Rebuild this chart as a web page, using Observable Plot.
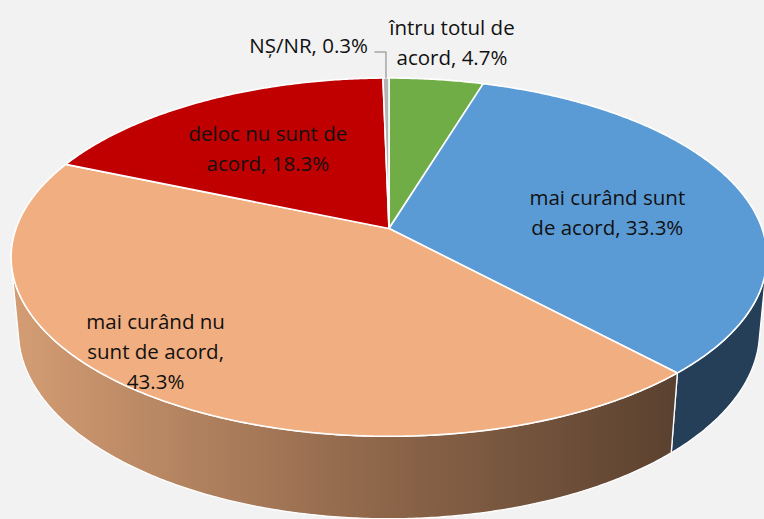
<!DOCTYPE html>
<html>
<head>
<meta charset="utf-8">
<script src="https://cdn.jsdelivr.net/npm/d3@7"></script>
<script src="https://cdn.jsdelivr.net/npm/@observablehq/plot@0.6"></script>
<style>
  html, body { margin: 0; padding: 0; background: #f2f2f2; }
  #chart svg { display: block; }
</style>
</head>
<body>
<div id="chart"></div>
<script>
// ---- data ----
const categories = ["întru totul de acord", "mai curând sunt de acord", "mai curând nu sunt de acord", "deloc nu sunt de acord", "NȘ/NR"];
const values = [4.7, 33.3, 43.3, 18.3, 0.3];
const topColors = ["#70ad47", "#5b9bd5", "#f1ae80", "#c00000", "#b4b4b4"];
const sideColors = ["#4a7a2c", "#243f57", "url(#orangeSide)", "#7a0000", "#888888"];
const wrapChars = [14, 15, 14, 16, 20];

// ---- layout (3D perspective pie) ----
const W = 764, H = 519;
const CX = 388.5, CY = 228, B = 373, SIN_PHI = 0.468, E = 0.16;
const COS_PHI = Math.sqrt(1 - SIN_PHI * SIN_PHI);
const RAD = E / COS_PHI, F = B / RAD, DEPTH = 0.0411;
const labelLayout = [
  {k: 1.32, dx: 3, dy: 0},
  {k: 0.62, dx: -2, dy: 6},
  {k: 0.76, dx: -53, dy: 0},
  {k: 0.60, dx: -5, dy: -2},
  {k: 1.00, dx: -18, dy: -32}
];
const FONT_SIZE = 20.5;

function project(theta, k, level) {
  const X = k * RAD * Math.sin(theta), Z = k * RAD * Math.cos(theta), Y = level;
  const v = Y * COS_PHI + Z * SIN_PHI, w = 1 + Z * COS_PHI - Y * SIN_PHI;
  return {x: CX + F * X / w, y: CY - F * v / w};
}
function arc(a, b, k, level) {
  const n = Math.max(2, Math.ceil(Math.abs(b - a) / (Math.PI / 360)));
  return d3.range(n + 1).map(j => project(a + (b - a) * j / n, k, level));
}
function wrap(text, max) {
  const words = text.split(" "), lines = [];
  let cur = "";
  for (const w of words) {
    if (cur && (cur + " " + w).length > max) { lines.push(cur); cur = w; }
    else cur = cur ? cur + " " + w : w;
  }
  if (cur) lines.push(cur);
  return lines.join("\n");
}

const total = d3.sum(values);
let acc = 0;
const slices = values.map((v, i) => {
  const a = acc / total * 2 * Math.PI; acc += v;
  const b = acc / total * 2 * Math.PI;
  return {i, a, b, mid: (a + b) / 2};
});

const TH1 = Math.acos(-RAD / COS_PHI), TH2 = 2 * Math.PI - TH1;

const sidePolys = [];
slices.forEach(s => {
  const a = Math.max(s.a, TH1), b = Math.min(s.b, TH2);
  if (a < b) sidePolys.push({i: s.i, pts: [...arc(a, b, 1, 0), ...arc(b, a, 1, -DEPTH)]});
});
const topPolys = slices.map(s => ({i: s.i, pts: [project(0, 0, 0), ...arc(s.a, s.b, 1, 0)]}));

const labels = slices.map(s => {
  const L = labelLayout[s.i];
  const p = project(s.mid, L.k, 0);
  return {x: p.x + L.dx, y: p.y + L.dy, text: wrap(`${categories[s.i]}, ${values[s.i]}%`, wrapChars[s.i]), i: s.i};
});
const smallIdx = 4;
const rim = project(slices[smallIdx].mid, 1, 0);
const leader = [
  {x: rim.x - 11, y: rim.y - 26},
  {x: rim.x, y: rim.y - 26},
  {x: rim.x, y: rim.y}
];

function defsMark() {
  const ns = "http://www.w3.org/2000/svg";
  const defs = document.createElementNS(ns, "defs");
  const g = document.createElementNS(ns, "linearGradient");
  g.setAttribute("id", "orangeSide");
  g.setAttribute("x1", "0"); g.setAttribute("x2", "1");
  g.setAttribute("y1", "0"); g.setAttribute("y2", "0");
  [["0%", "#d49d74"], ["55%", "#8e664a"], ["100%", "#5a412f"]].forEach(([o, c]) => {
    const st = document.createElementNS(ns, "stop");
    st.setAttribute("offset", o); st.setAttribute("stop-color", c);
    g.appendChild(st);
  });
  defs.appendChild(g);
  return defs;
}

const marks = [defsMark];
sidePolys.forEach(p => marks.push(Plot.line(p.pts, {x: "x", y: "y", curve: "linear-closed", fill: sideColors[p.i], stroke: "white", strokeWidth: 1.3, strokeLinejoin: "round"})));
topPolys.forEach(p => marks.push(Plot.line(p.pts, {x: "x", y: "y", curve: "linear-closed", fill: topColors[p.i], stroke: "white", strokeWidth: 1.6, strokeLinejoin: "round"})));
marks.push(Plot.line(leader, {x: "x", y: "y", stroke: "#a6a6a6", strokeWidth: 1.5}));
marks.push(Plot.text(labels.filter(d => d.i !== smallIdx), {x: "x", y: "y", text: "text", textAnchor: "middle", lineAnchor: "middle", lineHeight: 1.46, fontSize: FONT_SIZE, fill: "#111"}));
marks.push(Plot.text(labels.filter(d => d.i === smallIdx), {x: "x", y: "y", text: "text", textAnchor: "end", lineAnchor: "middle", fontSize: FONT_SIZE, fill: "#111"}));

const chart = Plot.plot({
  width: W, height: H,
  margin: 0,
  style: {background: "#f2f2f2", fontFamily: "'Open Sans', sans-serif"},
  x: {domain: [0, W], range: [0, W], axis: null},
  y: {domain: [0, H], range: [0, H], axis: null},
  marks
});
document.getElementById("chart").appendChild(chart);
</script>
</body>
</html>
